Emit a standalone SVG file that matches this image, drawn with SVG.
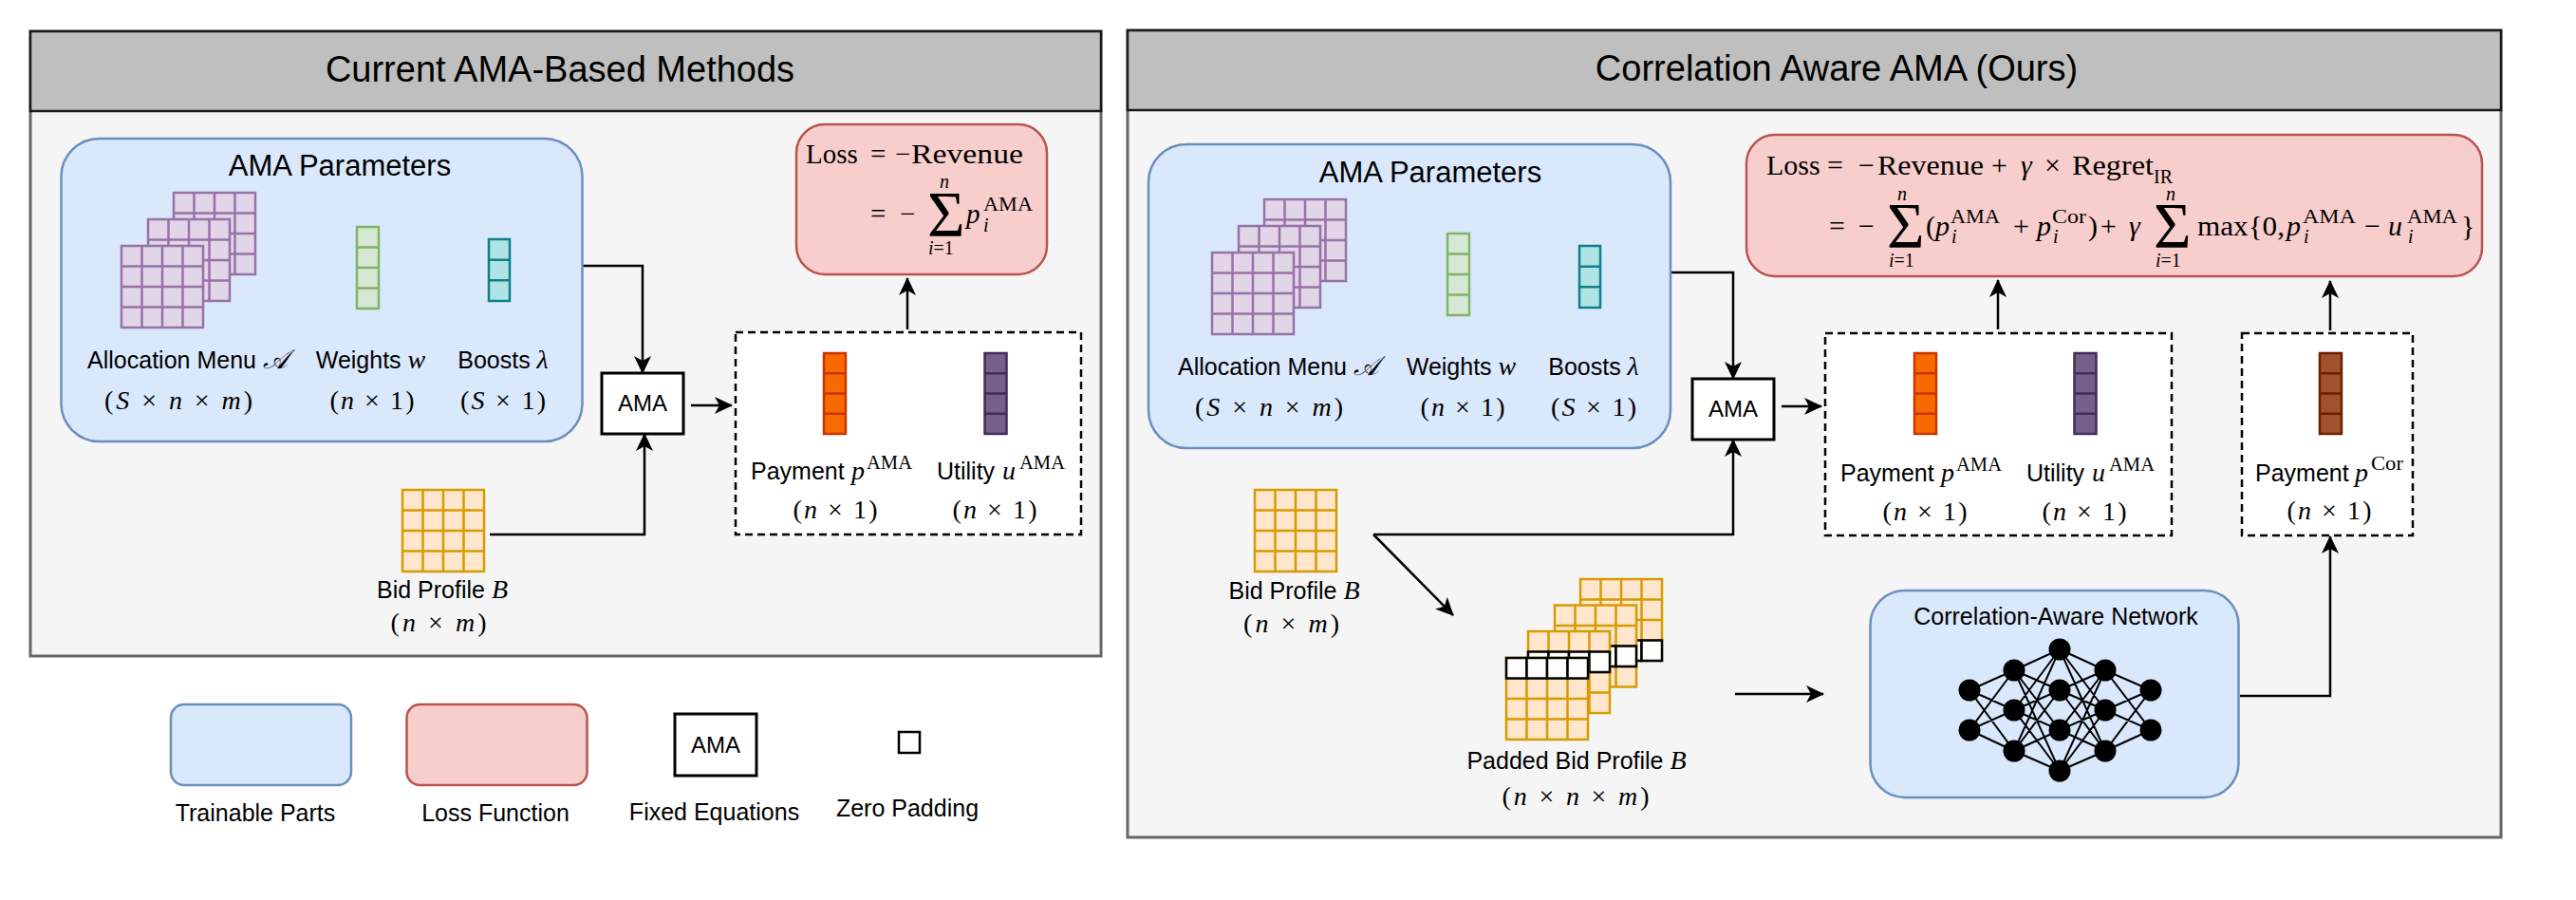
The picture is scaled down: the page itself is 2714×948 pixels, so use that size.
<svg xmlns="http://www.w3.org/2000/svg" width="2714" height="948" viewBox="0 0 2714 948">
<style>
.s{font-family:"Liberation Sans",Arial,sans-serif;fill:#000}
.m{font-family:"Liberation Serif","Times New Roman",serif;fill:#000}
.i{font-style:italic}
.body{fill:#f5f5f5;stroke:#666;stroke-width:3}
.head{fill:#bfbfbf;stroke:#1a1a1a;stroke-width:2.5}
.blue{fill:#dae8fc;stroke:#6c8ebf;stroke-width:2.5}
.red{fill:#f8cecc;stroke:#b85450;stroke-width:2.5}
.dash{fill:#fff;stroke:#000;stroke-width:2.5;stroke-dasharray:8 5}
.box{fill:#fff;stroke:#000;stroke-width:3}
.con{fill:none;stroke:#000;stroke-width:2.5}
.pu{fill:#e1d5e7;stroke:#9673a6;stroke-width:2.5}
.or{fill:#ffe6cc;stroke:#d79b00;stroke-width:2.5}
.gr{fill:#d5e8d4;stroke:#82b366;stroke-width:2.5}
.te{fill:#b0e3e6;stroke:#0e8088;stroke-width:2.5}
.pa{fill:#fa6800;stroke:#c73500;stroke-width:2.5}
.ut{fill:#76608a;stroke:#432d57;stroke-width:2.5}
.co{fill:#a0522d;stroke:#6d1f00;stroke-width:2.5}
.zr{fill:#fff;stroke:#000;stroke-width:2.5}
.nn{stroke:#000;stroke-width:2;fill:none}
</style>
<defs>
<marker id="ah" viewBox="0 0 19 19" markerWidth="19" markerHeight="19" refX="18" refY="9.5" orient="auto" markerUnits="userSpaceOnUse">
<path d="M0,0.5 L19,9.5 L0,18.5 L5,9.5 Z" fill="#000"/>
</marker>
<g id="gP"><rect class="pu" width="86" height="86"/><path class="pu" d="M21.5,0V86M43,0V86M64.5,0V86M0,21.5H86M0,43H86M0,64.5H86"/></g>
<g id="gO"><rect class="or" width="86" height="86"/><path class="or" d="M21.5,0V86M43,0V86M64.5,0V86M0,21.5H86M0,43H86M0,64.5H86"/></g>
<g id="zrow"><rect class="zr" x="0" width="21.5" height="21.5"/><rect class="zr" x="21.5" width="21.5" height="21.5"/><rect class="zr" x="43" width="21.5" height="21.5"/><rect class="zr" x="64.5" width="21.5" height="21.5"/></g>
<g id="colW"><rect class="gr" width="23" height="86"/><path class="gr" d="M0,21.5H23M0,43H23M0,64.5H23"/></g>
<g id="colB"><rect class="te" width="22" height="65"/><path class="te" d="M0,21.7H22M0,43.3H22"/></g>
<g id="colPa"><rect class="pa" width="23" height="85"/><path class="pa" d="M0,21.25H23M0,42.5H23M0,63.75H23"/></g>
<g id="colUt"><rect class="ut" width="23" height="85"/><path class="ut" d="M0,21.25H23M0,42.5H23M0,63.75H23"/></g>
<g id="colCo"><rect class="co" width="23" height="85"/><path class="co" d="M0,21.25H23M0,42.5H23M0,63.75H23"/></g>
<g id="params">
<text class="s" x="358" y="185" font-size="31" text-anchor="middle">AMA Parameters</text>
<use href="#gP" x="183" y="203"/><use href="#gP" x="156" y="231"/><use href="#gP" x="128" y="259"/>
<use href="#colW" x="376" y="239"/>
<use href="#colB" x="515" y="252"/>
<text class="s" x="197.5" y="388" font-size="25" text-anchor="middle">Allocation Menu <tspan class="m i" font-size="28">𝒜</tspan></text>
<text class="s" x="390.5" y="388" font-size="25" text-anchor="middle">Weights <tspan class="m i" font-size="28">w</tspan></text>
<text class="s" x="530" y="388" font-size="25" text-anchor="middle">Boosts <tspan class="m i" font-size="28">λ</tspan></text>
<text class="m" x="188" y="431" font-size="28" text-anchor="middle" textLength="156" lengthAdjust="spacing">(<tspan class="i">S</tspan> × <tspan class="i">n</tspan> × <tspan class="i">m</tspan>)</text>
<text class="m" x="392" y="431" font-size="28" text-anchor="middle" textLength="89" lengthAdjust="spacing">(<tspan class="i">n</tspan> × 1)</text>
<text class="m" x="530" y="431" font-size="28" text-anchor="middle" textLength="90" lengthAdjust="spacing">(<tspan class="i">S</tspan> × 1)</text>
</g>
</defs>

<g id="panel-left">
<rect class="body" x="32" y="33" width="1128" height="658"/>
<rect class="head" x="32" y="33" width="1128" height="84"/>
<text class="s" x="590" y="86" font-size="38" text-anchor="middle">Current AMA-Based Methods</text>
</g>
<g id="panel-right">
<rect class="body" x="1188" y="32" width="1447" height="850"/>
<rect class="head" x="1188" y="32" width="1447" height="84"/>
<text class="s" x="1935" y="85" font-size="38" text-anchor="middle">Correlation Aware AMA (Ours)</text>
</g>

<g id="connectors">
<path class="con" d="M613,280 H677 V393" marker-end="url(#ah)"/>
<path class="con" d="M516,563 H679 V457" marker-end="url(#ah)"/>
<path class="con" d="M728,427 H771" marker-end="url(#ah)"/>
<path class="con" d="M956,347 V293" marker-end="url(#ah)"/>
<path class="con" d="M1760,287 H1826 V399" marker-end="url(#ah)"/>
<path class="con" d="M1447,563 H1826 V463" marker-end="url(#ah)"/>
<path class="con" d="M1447,563 L1531,648" marker-end="url(#ah)"/>
<path class="con" d="M1877,428 H1919" marker-end="url(#ah)"/>
<path class="con" d="M2105,347 V295" marker-end="url(#ah)"/>
<path class="con" d="M1828,731 H1921" marker-end="url(#ah)"/>
<path class="con" d="M2360,733 H2455 V565" marker-end="url(#ah)"/>
<path class="con" d="M2455,348 V296" marker-end="url(#ah)"/>
</g>

<g id="ama-params-left">
<rect class="blue" x="64.5" y="146" width="549" height="319" rx="40"/>
<use href="#params"/>
</g>
<g id="ama-params-right">
<rect class="blue" x="1210" y="152" width="550" height="320" rx="40"/>
<use href="#params" transform="translate(1149,7)"/>
</g>

<g id="ama-left">
<rect class="box" x="634" y="393" width="86" height="64"/>
<text class="s" x="677" y="433" font-size="24" text-anchor="middle">AMA</text>
</g>
<g id="ama-right">
<rect class="box" x="1783" y="399" width="86" height="64"/>
<text class="s" x="1826" y="439" font-size="24" text-anchor="middle">AMA</text>
</g>

<g id="bid-left">
<use href="#gO" x="424" y="516"/>
<text class="s" x="466" y="630" font-size="25" text-anchor="middle">Bid Profile <tspan class="m i" font-size="28">B</tspan></text>
<text class="m" x="462" y="665" font-size="28" text-anchor="middle" textLength="101" lengthAdjust="spacing">(<tspan class="i">n</tspan> × <tspan class="i">m</tspan>)</text>
</g>
<g id="bid-right">
<use href="#gO" x="1322" y="516"/>
<text class="s" x="1363.5" y="631" font-size="25" text-anchor="middle">Bid Profile <tspan class="m i" font-size="28">B</tspan></text>
<text class="m" x="1360.5" y="666" font-size="28" text-anchor="middle" textLength="101" lengthAdjust="spacing">(<tspan class="i">n</tspan> × <tspan class="i">m</tspan>)</text>
</g>

<g id="padded-bid">
<g transform="translate(1665,610)"><use href="#gO"/><use href="#zrow" y="64.5"/></g>
<g transform="translate(1638,637.5)"><use href="#gO"/><use href="#zrow" y="43"/></g>
<g transform="translate(1610,665)"><use href="#gO"/><use href="#zrow" y="21.5"/></g>
<g transform="translate(1587,693)"><use href="#gO"/><use href="#zrow" y="0"/></g>
<text class="s" x="1661" y="810" font-size="25" text-anchor="middle">Padded Bid Profile <tspan class="m i" font-size="28">B</tspan></text>
<text class="m" x="1660" y="848" font-size="28" text-anchor="middle" textLength="155" lengthAdjust="spacing">(<tspan class="i">n</tspan> × <tspan class="i">n</tspan> × <tspan class="i">m</tspan>)</text>
</g>

<g id="outputs-left">
<rect class="dash" x="775" y="350" width="364" height="213"/>
<use href="#colPa" x="868" y="372"/>
<use href="#colUt" x="1037.5" y="372"/>
<text class="s" x="791" y="505" font-size="25">Payment</text>
<text class="m i" x="897" y="505" font-size="28">p</text>
<text class="m" x="913" y="494" font-size="20" textLength="48" lengthAdjust="spacingAndGlyphs">AMA</text>
<text class="s" x="987" y="505" font-size="25">Utility</text>
<text class="m i" x="1056" y="505" font-size="28">u</text>
<text class="m" x="1074" y="494" font-size="20" textLength="48" lengthAdjust="spacingAndGlyphs">AMA</text>
<text class="m" x="880" y="546" font-size="28" text-anchor="middle" textLength="89" lengthAdjust="spacing">(<tspan class="i">n</tspan> × 1)</text>
<text class="m" x="1048" y="546" font-size="28" text-anchor="middle" textLength="89" lengthAdjust="spacing">(<tspan class="i">n</tspan> × 1)</text>
</g>

<g id="outputs-right">
<rect class="dash" x="1923" y="351" width="365" height="213"/>
<use href="#colPa" x="2017" y="372"/>
<use href="#colUt" x="2185.5" y="372"/>
<text class="s" x="1939" y="507" font-size="25">Payment</text>
<text class="m i" x="2045" y="507" font-size="28">p</text>
<text class="m" x="2061" y="496" font-size="20" textLength="48" lengthAdjust="spacingAndGlyphs">AMA</text>
<text class="s" x="2135" y="507" font-size="25">Utility</text>
<text class="m i" x="2204" y="507" font-size="28">u</text>
<text class="m" x="2222" y="496" font-size="20" textLength="48" lengthAdjust="spacingAndGlyphs">AMA</text>
<text class="m" x="2028" y="548" font-size="28" text-anchor="middle" textLength="89" lengthAdjust="spacing">(<tspan class="i">n</tspan> × 1)</text>
<text class="m" x="2196" y="548" font-size="28" text-anchor="middle" textLength="89" lengthAdjust="spacing">(<tspan class="i">n</tspan> × 1)</text>
</g>

<g id="output-cor">
<rect class="dash" x="2362" y="351" width="180" height="213"/>
<use href="#colCo" x="2444" y="372"/>
<text class="s" x="2376" y="507" font-size="25">Payment</text>
<text class="m i" x="2481" y="507" font-size="28">p</text>
<text class="m" x="2498" y="495" font-size="20" textLength="34" lengthAdjust="spacingAndGlyphs">Cor</text>
<text class="m" x="2454" y="547" font-size="28" text-anchor="middle" textLength="89" lengthAdjust="spacing">(<tspan class="i">n</tspan> × 1)</text>
</g>

<g id="network">
<rect class="blue" x="1970.5" y="622" width="388" height="218" rx="36"/>
<text class="s" x="2166" y="658" font-size="25" text-anchor="middle">Correlation-Aware Network</text>
<path class="nn" d="M2075,727L2122,706M2075,727L2122,748M2075,727L2122,791M2075,769L2122,706M2075,769L2122,748M2075,769L2122,791
M2122,706L2170,684M2122,706L2170,727M2122,706L2170,769M2122,706L2170,812
M2122,748L2170,684M2122,748L2170,727M2122,748L2170,769M2122,748L2170,812
M2122,791L2170,684M2122,791L2170,727M2122,791L2170,769M2122,791L2170,812
M2170,684L2218,706M2170,684L2218,748M2170,684L2218,791
M2170,727L2218,706M2170,727L2218,748M2170,727L2218,791
M2170,769L2218,706M2170,769L2218,748M2170,769L2218,791
M2170,812L2218,706M2170,812L2218,748M2170,812L2218,791
M2218,706L2266,727M2218,706L2266,769M2218,748L2266,727M2218,748L2266,769M2218,791L2266,727M2218,791L2266,769"/>
<g fill="#000">
<circle cx="2075" cy="727" r="11.5"/><circle cx="2075" cy="769" r="11.5"/>
<circle cx="2122" cy="706" r="11.5"/><circle cx="2122" cy="748" r="11.5"/><circle cx="2122" cy="791" r="11.5"/>
<circle cx="2170" cy="684" r="11.5"/><circle cx="2170" cy="727" r="11.5"/><circle cx="2170" cy="769" r="11.5"/><circle cx="2170" cy="812" r="11.5"/>
<circle cx="2218" cy="706" r="11.5"/><circle cx="2218" cy="748" r="11.5"/><circle cx="2218" cy="791" r="11.5"/>
<circle cx="2266" cy="727" r="11.5"/><circle cx="2266" cy="769" r="11.5"/>
</g>
</g>

<g id="loss-left">
<rect class="red" x="839" y="131" width="264" height="158" rx="30"/>
<text class="m" x="849" y="172" font-size="29">Loss</text>
<text class="m" x="917" y="172" font-size="29">=</text>
<text class="m" x="943" y="172" font-size="29">−</text>
<text class="m" x="960" y="172" font-size="29" textLength="118" lengthAdjust="spacingAndGlyphs">Revenue</text>
<text class="m" x="917" y="235" font-size="29">=</text>
<text class="m" x="948" y="235" font-size="29">−</text>
<text class="m" x="977" y="248" font-size="68">Σ</text>
<text class="m i" x="990" y="198" font-size="20">n</text>
<text class="m" x="978" y="268" font-size="20"><tspan class="i">i</tspan>=1</text>
<text class="m i" x="1018" y="235" font-size="29">p</text>
<text class="m" x="1036" y="222" font-size="21" textLength="52" lengthAdjust="spacingAndGlyphs">AMA</text>
<text class="m i" x="1036" y="244" font-size="20">i</text>
</g>

<g id="loss-right">
<rect class="red" x="1840" y="142" width="775" height="149" rx="30"/>
<text class="m" x="1861" y="184" font-size="30">Loss</text>
<text class="m" x="1925" y="184" font-size="30">=</text>
<text class="m" x="1958" y="184" font-size="30">−</text>
<text class="m" x="1978" y="184" font-size="30" textLength="112" lengthAdjust="spacingAndGlyphs">Revenue</text>
<text class="m" x="2098" y="184" font-size="30">+</text>
<text class="m i" x="2129" y="184" font-size="30">γ</text>
<text class="m" x="2154" y="184" font-size="30">×</text>
<text class="m" x="2183" y="184" font-size="30" textLength="86" lengthAdjust="spacingAndGlyphs">Regret</text>
<text class="m" x="2269" y="193" font-size="20">IR</text>
<text class="m" x="1927" y="248" font-size="30">=</text>
<text class="m" x="1958" y="248" font-size="30">−</text>
<text class="m" x="1988" y="260" font-size="68">Σ</text>
<text class="m i" x="1999" y="211" font-size="20">n</text>
<text class="m" x="1990" y="281" font-size="20"><tspan class="i">i</tspan>=1</text>
<text class="m" x="2029" y="248" font-size="30">(</text>
<text class="m i" x="2039" y="248" font-size="30">p</text>
<text class="m" x="2055" y="235" font-size="21" textLength="52" lengthAdjust="spacingAndGlyphs">AMA</text>
<text class="m i" x="2056" y="256" font-size="20">i</text>
<text class="m" x="2121" y="248" font-size="30">+</text>
<text class="m i" x="2146" y="248" font-size="30">p</text>
<text class="m" x="2162" y="235" font-size="21" textLength="36" lengthAdjust="spacingAndGlyphs">Cor</text>
<text class="m i" x="2163" y="256" font-size="20">i</text>
<text class="m" x="2200" y="248" font-size="30">)</text>
<text class="m" x="2213" y="248" font-size="30">+</text>
<text class="m i" x="2243" y="248" font-size="30">γ</text>
<text class="m" x="2269" y="260" font-size="68">Σ</text>
<text class="m i" x="2282" y="211" font-size="20">n</text>
<text class="m" x="2271" y="281" font-size="20"><tspan class="i">i</tspan>=1</text>
<text class="m" x="2315" y="248" font-size="30" textLength="92" lengthAdjust="spacingAndGlyphs">max{0,</text>
<text class="m i" x="2409" y="248" font-size="30">p</text>
<text class="m" x="2426" y="235" font-size="21" textLength="56" lengthAdjust="spacingAndGlyphs">AMA</text>
<text class="m i" x="2427" y="256" font-size="20">i</text>
<text class="m" x="2491" y="248" font-size="30">−</text>
<text class="m i" x="2516" y="248" font-size="30">u</text>
<text class="m" x="2536" y="235" font-size="21" textLength="53" lengthAdjust="spacingAndGlyphs">AMA</text>
<text class="m i" x="2537" y="256" font-size="20">i</text>
<text class="m" x="2593" y="248" font-size="30">}</text>
</g>

<g id="legend-trainable">
<rect class="blue" x="180" y="742" width="190" height="85" rx="14"/>
<text class="s" x="269" y="865" font-size="25" text-anchor="middle">Trainable Parts</text>
</g>
<g id="legend-loss">
<rect class="red" x="428.5" y="742" width="190" height="85" rx="14"/>
<text class="s" x="522" y="865" font-size="25" text-anchor="middle">Loss Function</text>
</g>
<g id="legend-fixed">
<rect class="box" x="711" y="752" width="86" height="65"/>
<text class="s" x="754" y="793" font-size="24" text-anchor="middle">AMA</text>
<text class="s" x="752.5" y="864" font-size="25" text-anchor="middle">Fixed Equations</text>
</g>
<g id="legend-zero">
<rect class="zr" x="947" y="771" width="22" height="22"/>
<text class="s" x="956" y="860" font-size="25" text-anchor="middle">Zero Padding</text>
</g>
</svg>
